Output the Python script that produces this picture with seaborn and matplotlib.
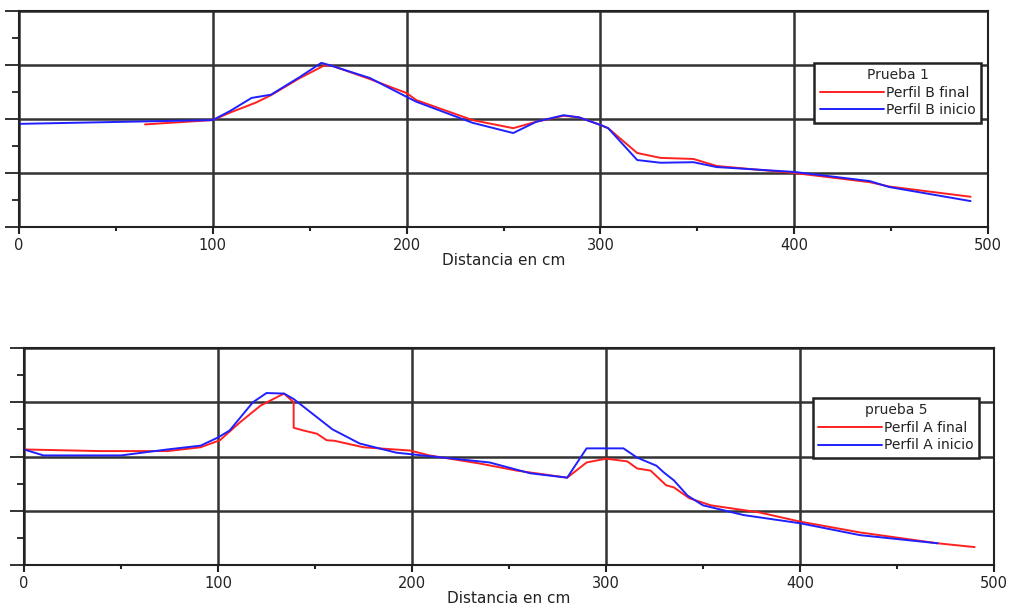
import numpy as np
import pandas as pd
import matplotlib
matplotlib.use("Agg")
import matplotlib.pyplot as plt
import seaborn as sns
from matplotlib.ticker import MultipleLocator, NullFormatter

# Prueba 1 - Perfil B
b_inicio_x = [0, 100, 109, 120, 130, 145, 156, 160, 181, 200, 205, 234, 255, 267, 281, 289, 300, 304,
              319, 331, 348, 360, 400, 439, 449, 491]
b_inicio_y = [1.91, 1.98, 2.15, 2.39, 2.45, 2.78, 3.04, 3.0, 2.76, 2.41, 2.32, 1.93, 1.74, 1.95, 2.07,
              2.03, 1.89, 1.83, 1.24, 1.19, 1.2, 1.11, 1.02, 0.85, 0.74, 0.48]
b_final_x = [65, 100, 109, 122, 130, 145, 158, 162, 181, 200, 205, 234, 255, 267, 281, 289, 300, 304,
             319, 331, 348, 360, 400, 439, 449, 491]
b_final_y = [1.9, 1.98, 2.12, 2.3, 2.44, 2.76, 3.0, 2.98, 2.74, 2.48, 2.35, 1.98, 1.83, 1.95, 2.06,
             2.03, 1.89, 1.83, 1.37, 1.28, 1.26, 1.13, 1.0, 0.83, 0.75, 0.56]

# prueba 5 - Perfil A
a_inicio_x = [0, 10, 50, 74, 91, 100, 106, 118, 125, 134, 139, 159, 173, 192, 200, 240, 261, 280, 290,
              309, 316, 326, 330, 335, 342, 350, 371, 400, 431, 471]
a_inicio_y = [2.13, 2.02, 2.02, 2.13, 2.2, 2.35, 2.48, 3.0, 3.17, 3.16, 3.06, 2.5, 2.24, 2.07, 2.04,
              1.89, 1.69, 1.61, 2.15, 2.15, 1.98, 1.83, 1.7, 1.56, 1.28, 1.1, 0.92, 0.77, 0.55, 0.4]
a_final_x = [0, 39, 74, 91, 101, 111, 122, 134, 139, 139, 144, 151, 156, 160, 175, 199, 209, 235, 254,
             280, 290, 300, 311, 316, 323, 331, 335, 343, 354, 379, 400, 431, 471, 490]
a_final_y = [2.13, 2.1, 2.1, 2.17, 2.3, 2.62, 2.94, 3.16, 3.0, 2.53, 2.48, 2.42, 2.3, 2.29, 2.17,
             2.11, 2.02, 1.87, 1.74, 1.61, 1.89, 1.96, 1.91, 1.78, 1.74, 1.47, 1.43, 1.23, 1.1, 0.97,
             0.8, 0.6, 0.4, 0.33]

panels = [
    {"title": "Prueba 1", "pos": [19 / 1011, 1 - 227 / 612, 969 / 1011, 216 / 612],
     "final": (b_final_x, b_final_y, "Perfil B final"),
     "inicio": (b_inicio_x, b_inicio_y, "Perfil B inicio"),
     "anchor": (0.993, 0.76)},
    {"title": "prueba 5", "pos": [24 / 1011, 1 - 565 / 612, 970 / 1011, 217 / 612],
     "final": (a_final_x, a_final_y, "Perfil A final"),
     "inicio": (a_inicio_x, a_inicio_y, "Perfil A inicio"),
     "anchor": (0.985, 0.77)},
]

sns.set_style("white")
plt.rcParams["font.family"] = ["DejaVu Sans"]

fig = plt.figure(figsize=(10.11, 6.12), dpi=100)

for p in panels:
    ax = fig.add_axes(p["pos"])
    fx, fy, flab = p["final"]
    ix, iy, ilab = p["inicio"]
    sns.lineplot(x=fx, y=fy, ax=ax, color="#ff2020", linewidth=1.4, label=flab,
                 estimator=None, sort=False)
    sns.lineplot(x=ix, y=iy, ax=ax, color="#2020ff", linewidth=1.4, label=ilab,
                 estimator=None, sort=False)
    ax.set_xlim(0, 500)
    ax.set_ylim(0, 4)
    ax.xaxis.set_major_locator(MultipleLocator(100))
    ax.xaxis.set_minor_locator(MultipleLocator(50))
    ax.yaxis.set_major_locator(MultipleLocator(1))
    ax.yaxis.set_minor_locator(MultipleLocator(0.5))
    ax.yaxis.set_major_formatter(NullFormatter())
    ax.grid(True, which="major", color="#333333", linewidth=1.8)
    ax.set_axisbelow(True)
    for s in ax.spines.values():
        s.set_color("#222222")
        s.set_linewidth(1.5)
    ax.tick_params(axis="x", which="both", bottom=True, direction="out", width=1.5,
                   colors="#222222")
    ax.tick_params(axis="x", which="major", length=5, labelsize=10.5, pad=3)
    ax.tick_params(axis="x", which="minor", length=3)
    ax.tick_params(axis="y", which="both", left=True, direction="out", width=1.3,
                   colors="#222222")
    ax.tick_params(axis="y", which="major", length=10)
    ax.tick_params(axis="y", which="minor", length=5)
    ax.set_xlabel("Distancia en cm", fontsize=11, labelpad=0, color="#222222")
    ax.set_ylabel("")
    leg = ax.legend(title=p["title"], loc="upper right", bbox_to_anchor=p["anchor"],
                    fontsize=10, title_fontsize=10, frameon=True, fancybox=False,
                    edgecolor="#222222", handlelength=4.6, handletextpad=0.15,
                    borderpad=0.4, borderaxespad=0, labelspacing=0.25, framealpha=1)
    leg.get_frame().set_linewidth(1.8)
    for t in leg.get_texts():
        t.set_color("#222222")

fig.savefig("out.png", dpi=100)
